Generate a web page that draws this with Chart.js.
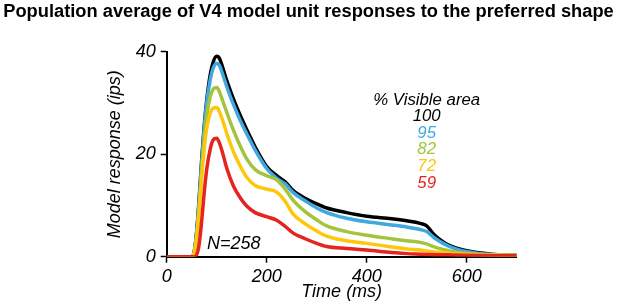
<!DOCTYPE html>
<html>
<head>
<meta charset="utf-8">
<script src="https://cdn.jsdelivr.net/npm/chart.js@4.4.1/dist/chart.umd.min.js"></script>
<style>
  body { margin: 0; background: #fff; }
  #wrap { width: 617px; height: 305px; }
</style>
</head>
<body>
<div id="wrap"><canvas id="chart" width="617" height="305"></canvas></div>
<script>
// time axis (ms), shared by every curve
const timeMs = [0, 50, 55, 60, 65, 70, 75, 80, 87, 93, 100, 105, 112, 120, 133, 147, 160, 177, 200, 220,
  237, 253, 277, 300, 320, 360, 400, 450, 480, 507, 520, 535, 553, 570, 593, 620, 650, 700];

// model response (ips) for each % visible area
const resp100 = [0, 0, 1.0, 5, 11.5, 19, 25.5, 30.5, 35.5, 38, 39.1, 38.8, 36.9, 34.4, 30.9, 27.6, 24.8, 21.4, 17.6, 15.8,
  14.6, 12.9, 11.4, 10.3, 9.5, 8.6, 7.9, 7.4, 7.0, 6.5, 6.0, 4.3, 2.9, 2.0, 1.3, 0.8, 0.5, 0.3];
const resp95 = [0, 0, 0.9, 4.8, 11, 18.5, 25, 30, 34.5, 36.8, 37.7, 37.4, 35.6, 33.2, 29.8, 26.6, 24.0, 20.8, 17.2, 15.3,
  14.2, 12.5, 10.9, 9.5, 8.6, 7.5, 6.8, 6.2, 5.8, 5.3, 4.9, 3.7, 2.6, 1.8, 1.1, 0.7, 0.4, 0.3];
const resp82 = [0, 0, 0.8, 4.3, 10, 17, 23, 27.5, 31.2, 32.7, 33.0, 32.3, 30.4, 28.2, 24.8, 21.6, 19.1, 17.0, 15.8, 15.0,
  13.2, 11.0, 8.8, 7.2, 6.0, 4.9, 4.2, 3.5, 3.1, 2.8, 2.5, 1.9, 1.4, 1.0, 0.7, 0.5, 0.4, 0.3];
const resp72 = [0, 0, 0.7, 3.8, 9, 15.5, 21, 25, 28, 29, 29.1, 28.4, 26.6, 24.1, 20.6, 17.7, 15.5, 13.9, 13.2, 12.6,
  10.8, 8.3, 6.4, 5.0, 4.0, 3.1, 2.6, 1.9, 1.5, 1.3, 1.1, 0.9, 0.8, 0.6, 0.5, 0.4, 0.3, 0.2];
const resp59 = [0, 0, 0, 0.4, 2.5, 7, 12.5, 17, 21, 22.8, 23.1, 22.3, 20.2, 17.3, 13.9, 11.5, 9.9, 8.6, 7.8, 7.1,
  5.9, 4.6, 3.5, 2.6, 2.0, 1.6, 1.3, 0.8, 0.6, 0.5, 0.45, 0.4, 0.4, 0.35, 0.3, 0.25, 0.2, 0.2];

const seriesLabels = ['100', '95', '82', '72', '59'];
const seriesValues = [resp100, resp95, resp82, resp72, resp59];
const seriesColors = ['#000000', '#3ea8df', '#a3c43c', '#fdc80c', '#e5231f'];

const xTicks = [0, 200, 400, 600];
const yTicks = [0, 20, 40];

const TITLE = 'Population average of V4 model unit responses to the preferred shape';
const FONT = '"Liberation Sans", Arial, Helvetica, sans-serif';

// title, legend block and sample size drawn as free text
const annotations = {
  id: 'annotations',
  afterDatasetsDraw(chart) {
    const { ctx, scales: { x, y } } = chart;
    ctx.save();
    ctx.textAlign = 'center';

    ctx.textBaseline = 'alphabetic';
    ctx.font = 'bold 18.3px ' + FONT;
    ctx.fillStyle = '#000';
    ctx.fillText(TITLE, chart.width / 2, 17);

    ctx.textBaseline = 'middle';
    ctx.font = 'italic 16.8px ' + FONT;
    const cx = x.getPixelForValue(520);
    const cy = y.getPixelForValue(30.6);
    ctx.fillText('% Visible area', cx, cy);
    seriesLabels.forEach((lab, i) => {
      ctx.fillStyle = seriesColors[i];
      ctx.fillText(lab, cx, cy + (i + 1) * 16.6);
    });
    ctx.font = 'italic 18px ' + FONT;
    ctx.fillStyle = '#000';
    ctx.fillText('N=258', x.getPixelForValue(134), y.getPixelForValue(2.5));
    ctx.restore();
  }
};

const datasets = seriesValues.map((vals, i) => ({
  label: seriesLabels[i],
  data: timeMs.map((t, j) => ({ x: t, y: vals[j] })),
  borderColor: seriesColors[i],
  borderWidth: 3.5,
  pointRadius: 0,
  cubicInterpolationMode: 'monotone',
  fill: false,
  order: seriesValues.length - 1 - i
}));

new Chart(document.getElementById('chart'), {
  type: 'line',
  data: { datasets },
  options: {
    responsive: false,
    animation: false,
    layout: { padding: { left: 0, right: 100.3, top: 51.7, bottom: 0 } },
    plugins: {
      legend: { display: false },
      tooltip: { enabled: false }
    },
    scales: {
      x: {
        type: 'linear',
        min: 0,
        max: 700,
        afterFit: (s) => { s.height = 48.3; },
        afterBuildTicks: (s) => { s.ticks = xTicks.map(v => ({ value: v })); },
        ticks: { color: '#000', padding: 3, font: { family: FONT, size: 18, style: 'italic' } },
        grid: { drawOnChartArea: false, drawTicks: true, tickLength: 6, tickColor: '#000', tickWidth: 1.5 },
        border: { color: '#000', width: 2 },
        title: {
          display: true,
          text: 'Time (ms)',
          color: '#000',
          font: { family: FONT, size: 18, style: 'italic' },
          padding: { top: 0, bottom: 2.5 }
        }
      },
      y: {
        min: 0,
        max: 40,
        afterFit: (s) => { s.width = 166.7; },
        afterBuildTicks: (s) => { s.ticks = yTicks.map(v => ({ value: v })); },
        ticks: { color: '#000', padding: 5, font: { family: FONT, size: 18, style: 'italic' } },
        grid: { drawOnChartArea: false, drawTicks: true, tickLength: 6, tickColor: '#000', tickWidth: 1.5 },
        border: { color: '#000', width: 2 },
        title: {
          display: true,
          text: 'Model response (ips)',
          color: '#000',
          font: { family: FONT, size: 18, style: 'italic' },
          padding: { top: 104, bottom: 0 }
        }
      }
    }
  },
  plugins: [annotations]
});
</script>
</body>
</html>
